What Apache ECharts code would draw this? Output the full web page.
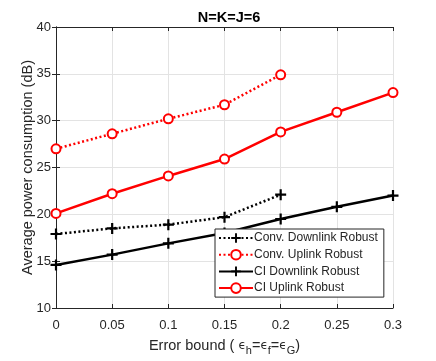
<!DOCTYPE html>
<html>
<head>
<meta charset="utf-8">
<script src="https://cdn.jsdelivr.net/npm/echarts@6/dist/echarts.min.js"></script>
<style>
  html, body { margin: 0; padding: 0; background: #fff; }
  #chart { width: 436px; height: 361px; }
</style>
</head>
<body>
<div id="chart"></div>
<script>
const errorBounds = [0, 0.05, 0.1, 0.15, 0.2, 0.25, 0.3]
const convDownlink = [17.9, 18.5, 18.9, 19.7, 22.1]
const convUplink = [27.0, 28.6, 30.2, 31.7, 34.9]
const ciDownlink = [14.6, 15.7, 16.9, 18.0, 19.5, 20.8, 22.0]
const ciUplink = [20.1, 22.2, 24.1, 25.9, 28.8, 30.9, 33.0]
const seriesNames = ['Conv. Downlink Robust', 'Conv. Uplink Robust', 'CI Downlink Robust', 'CI Uplink Robust']

const plusIcon = 'path://M4,0h2v4h4v2h-4v4h-2v-4h-4v-2h4z'
const ink = '#262626'
const font = 'Liberation Sans, Arial, sans-serif'

const pairs = (vals) => vals.map((v, i) => [errorBounds[i], v])

function lineSeries(name, vals, color, dotted, circle) {
  return {
    name,
    type: 'line',
    data: pairs(vals),
    symbol: circle ? 'emptyCircle' : plusIcon,
    symbolSize: circle ? 9 : 11,
    showSymbol: true,
    color,
    lineStyle: { width: 2.5, color, type: dotted ? [2, 2.5] : 'solid' },
    itemStyle: { color, borderColor: color, borderWidth: circle ? 2.5 : 0 },
    emphasis: { disabled: true },
    animation: false,
  }
}

const chart = echarts.init(document.getElementById('chart'), null, { renderer: 'canvas' })
chart.setOption({
  backgroundColor: '#fff',
  textStyle: { fontFamily: font },
  title: {
    text: 'N=K=J=6',
    left: 224,
    top: 5,
    textAlign: 'center',
    textStyle: { fontSize: 14.5, fontWeight: 'bold', color: '#000', fontFamily: font },
  },
  grid: { left: 56, right: 43, top: 27, bottom: 49 },
  legend: {
    orient: 'vertical',
    left: 215,
    top: 229,
    width: 166,
    padding: [3, 6, 3, 3],
    itemGap: 4.7,
    itemWidth: 34,
    itemHeight: 12,
    backgroundColor: '#fff',
    borderColor: ink,
    borderWidth: 1,
    borderRadius: 0,
    textStyle: { fontSize: 12, color: ink, padding: [0, 0, 0, -4] },
    data: seriesNames,
  },
  xAxis: [
    {
      type: 'value',
      min: 0,
      max: 0.3,
      interval: 0.05,
      name: '{t|Error bound ( }{e|ϵ}{s|h}{t|=}{e|ϵ}{s|f}{t|=}{e|ϵ}{s|G}{t|)}',
      nameLocation: 'middle',
      nameGap: 28,
      nameMoveOverlap: false,
      nameTextStyle: {
        rich: {
          t: { fontSize: 14.5, color: ink, fontFamily: font, lineHeight: 20, verticalAlign: 'middle' },
          e: { fontSize: 12, color: ink, fontFamily: 'DejaVu Sans', lineHeight: 20, verticalAlign: 'middle' },
          s: { fontSize: 11, color: ink, fontFamily: font, lineHeight: 20, verticalAlign: 'bottom', padding: [8, 0, 0, 0] },
        },
      },
      axisLine: { lineStyle: { color: ink, width: 1 } },
      axisTick: { inside: true, length: 4, lineStyle: { color: ink } },
      axisLabel: { color: ink, fontSize: 13, margin: 11, formatter: (v) => String(+v.toFixed(2)) },
      splitLine: { show: true, lineStyle: { color: '#e3e3e3', width: 1 } },
    },
    {
      type: 'value',
      position: 'top',
      min: 0,
      max: 0.3,
      interval: 0.05,
      axisLine: { show: true, lineStyle: { color: ink, width: 1 } },
      axisTick: { inside: true, length: 4, lineStyle: { color: ink } },
      axisLabel: { show: false },
      splitLine: { show: false },
    },
  ],
  yAxis: [
    {
      type: 'value',
      min: 10,
      max: 40,
      interval: 5,
      name: 'Average power consumption (dB)',
      nameLocation: 'middle',
      nameGap: 21,
      nameMoveOverlap: false,
      nameTextStyle: { fontSize: 14.5, color: ink, fontFamily: font },
      axisLine: { show: true, lineStyle: { color: ink, width: 1 } },
      axisTick: { show: true, inside: true, length: 4, lineStyle: { color: ink } },
      axisLabel: { color: ink, fontSize: 13, margin: 5 },
      splitLine: { show: true, lineStyle: { color: '#e3e3e3', width: 1 } },
    },
    {
      type: 'value',
      position: 'right',
      min: 10,
      max: 40,
      interval: 5,
      axisLine: { show: true, lineStyle: { color: ink, width: 1 } },
      axisTick: { show: true, inside: true, length: 4, lineStyle: { color: ink } },
      axisLabel: { show: false },
      splitLine: { show: false },
    },
  ],
  series: [
    lineSeries(seriesNames[2], ciDownlink, '#000', false, false),
    lineSeries(seriesNames[0], convDownlink, '#000', true, false),
    lineSeries(seriesNames[3], ciUplink, '#ff0000', false, true),
    lineSeries(seriesNames[1], convUplink, '#ff0000', true, true),
  ],
})
</script>
</body>
</html>
